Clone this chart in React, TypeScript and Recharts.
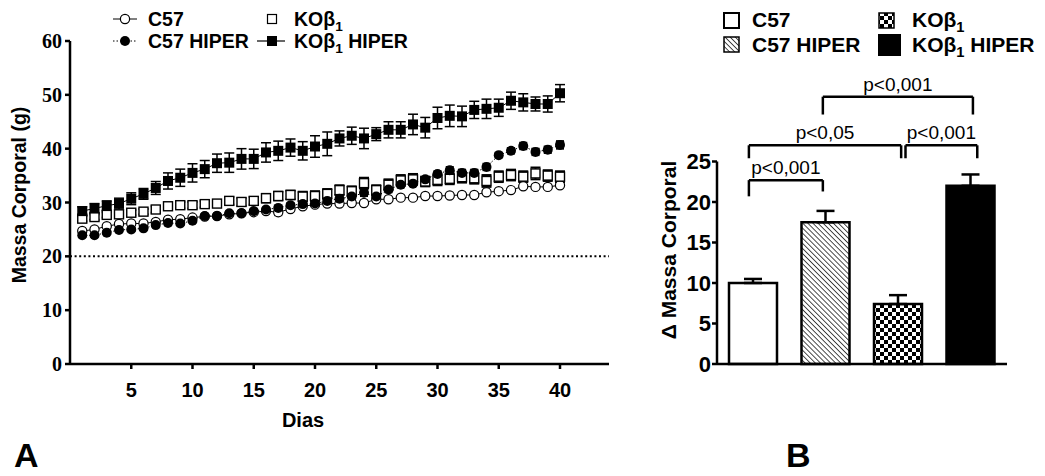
import React from 'react';
import {
  LineChart,
  Line,
  XAxis,
  YAxis,
  ErrorBar,
  ReferenceLine,
  BarChart,
  Bar,
  Cell,
} from 'recharts';

const SANS = '"Liberation Sans", Arial, sans-serif';
const SERIF = '"Liberation Serif", "Times New Roman", serif';

// Panel A: body mass (g) per day
const days = [
  1, 2, 3, 4, 5, 6, 7, 8, 9, 10, 11, 12, 13, 14, 15, 16, 17, 18, 19, 20,
  21, 22, 23, 24, 25, 26, 27, 28, 29, 30, 31, 32, 33, 34, 35, 36, 37, 38, 39, 40,
];
const c57 = [
  24.7, 25.0, 25.6, 26.0, 26.1, 26.1, 26.4, 26.8, 26.9, 27.2, 27.4, 27.5, 27.8, 28.0, 28.2, 28.4, 28.2, 28.8, 29.3, 29.6,
  29.8, 29.8, 29.9, 29.9, 30.6, 30.6, 30.9, 30.9, 31.2, 31.2, 31.3, 31.4, 31.4, 31.9, 32.1, 32.3, 33.0, 32.9, 32.9, 33.2,
];
const c57Err = [
  0.3, 0.3, 0.3, 0.3, 0.3, 0.3, 0.3, 0.3, 0.3, 0.3, 0.3, 0.3, 0.3, 0.3, 0.3, 0.3, 0.6, 0.3, 0.3, 0.3,
  0.3, 0.3, 0.3, 0.3, 0.3, 0.3, 0.3, 0.3, 0.3, 0.3, 0.3, 0.3, 0.3, 0.3, 0.3, 0.3, 0.3, 0.3, 0.3, 0.3,
];
const c57Hiper = [
  23.9, 23.9, 24.4, 24.9, 25.0, 25.2, 25.8, 26.2, 26.1, 26.6, 27.5, 27.5, 28.0, 28.0, 28.4, 28.7, 29.0, 29.5, 29.7, 29.8,
  30.3, 30.7, 31.1, 31.8, 31.1, 32.4, 33.3, 33.5, 34.3, 35.3, 36.0, 35.5, 35.5, 36.6, 38.8, 39.6, 40.5, 39.4, 39.8, 40.7,
];
const c57HiperErr = [
  0.3, 0.3, 0.3, 0.3, 0.3, 0.3, 0.3, 0.4, 0.3, 0.3, 0.3, 0.3, 0.3, 0.3, 0.3, 0.3, 0.4, 0.4, 0.4, 0.4,
  0.4, 0.5, 0.5, 0.6, 0.5, 0.5, 0.5, 0.4, 0.4, 0.5, 0.6, 0.6, 0.6, 0.6, 0.4, 0.5, 0.6, 0.6, 0.6, 0.7,
];
const koB1 = [
  27.0, 27.3, 27.7, 27.8, 28.1, 28.3, 28.7, 29.3, 29.5, 29.5, 29.7, 29.8, 30.3, 30.1, 30.3, 30.8, 31.2, 31.4, 31.1, 31.2,
  31.6, 32.3, 32.1, 33.6, 32.3, 33.3, 34.1, 34.3, 33.9, 34.2, 34.4, 34.7, 34.5, 34.0, 34.8, 35.1, 34.8, 35.4, 35.0, 34.8,
];
const koB1Err = [
  0.5, 0.5, 0.5, 0.5, 0.5, 0.5, 0.6, 0.6, 0.6, 0.6, 0.6, 0.6, 0.7, 0.7, 0.7, 0.8, 0.8, 0.8, 0.9, 0.9,
  0.9, 0.9, 0.9, 1.0, 0.9, 1.0, 1.0, 1.0, 0.9, 1.0, 1.0, 1.0, 1.0, 1.1, 1.0, 1.0, 1.0, 1.1, 1.0, 1.0,
];
const koB1Hiper = [
  28.4, 28.9, 29.4, 29.8, 30.7, 31.6, 32.7, 34.0, 34.6, 35.5, 36.2, 37.3, 37.4, 38.1, 38.1, 39.3, 39.6, 40.2, 39.6, 40.4,
  40.9, 41.9, 42.4, 41.9, 42.7, 43.5, 43.5, 44.5, 43.9, 45.7, 46.1, 46.0, 47.2, 47.4, 47.6, 48.9, 48.6, 48.3, 48.3, 50.3,
];
const koB1HiperErr = [
  0.8, 0.9, 0.9, 1.0, 1.1, 1.0, 1.2, 1.5, 1.6, 1.7, 1.6, 1.7, 1.8, 1.9, 1.8, 1.8, 1.8, 1.6, 1.7, 2.0,
  2.2, 1.4, 1.6, 1.9, 1.2, 1.5, 1.5, 1.9, 1.9, 2.0, 2.0, 1.9, 1.6, 1.8, 1.6, 1.6, 1.6, 1.3, 1.5, 1.6,
];
const dayTicks = [5, 10, 15, 20, 25, 30, 35, 40];
const massTicks = [0, 10, 20, 30, 40, 50, 60];

// Panel B: delta body mass
const groups = ['C57', 'C57 HIPER', 'KOβ1', 'KOβ1 HIPER'];
const groupPos = [0, 1, 2, 3];
const deltaMass = [10.0, 17.5, 7.4, 22.0];
const deltaErr = [0.5, 1.4, 1.1, 1.4];
const deltaTicks = [0, 5, 10, 15, 20, 25];
const groupFills = ['#fff', 'url(#hatch)', 'url(#checker)', '#000'];

// significance brackets: from/to in group position, y in axis units
const brackets = [
  { from: -0.06, to: 0.96, top: 22.7, legFrom: 20.7, legTo: 21.3, label: 'p<0,001' },
  { from: -0.06, to: 2.04, top: 27.0, legFrom: 25.4, legTo: 25.4, label: 'p<0,05' },
  { from: 2.1, to: 3.09, top: 27.0, legFrom: 25.4, legTo: 25.4, label: 'p<0,001' },
  { from: 0.96, to: 3.03, top: 33.0, legFrom: 30.8, legTo: 30.8, label: 'p<0,001' },
];

const massData = days.map((d, i) => ({
  day: d,
  c57: c57[i],
  c57Err: c57Err[i],
  c57Hiper: c57Hiper[i],
  c57HiperErr: c57HiperErr[i],
  koB1: koB1[i],
  koB1Err: koB1Err[i],
  koB1Hiper: koB1Hiper[i],
  koB1HiperErr: koB1HiperErr[i],
}));

const deltaData = groups.map((g, i) => ({
  name: g,
  pos: groupPos[i],
  value: deltaMass[i],
  err: [0, deltaErr[i]],
}));

const openCircle = (p: any) => (
  <circle key={`oc${p.index}`} cx={p.cx} cy={p.cy} r={4.6} fill="#fff" stroke="#000" strokeWidth={1.2} />
);
const filledCircle = (p: any) => (
  <circle key={`fc${p.index}`} cx={p.cx} cy={p.cy} r={5} fill="#000" />
);
const openSquare = (p: any) => (
  <rect key={`os${p.index}`} x={p.cx - 4.5} y={p.cy - 4.5} width={9} height={9} fill="#fff" stroke="#000" strokeWidth={1.4} />
);
const filledSquare = (p: any) => (
  <rect key={`fs${p.index}`} x={p.cx - 5} y={p.cy - 5} width={10} height={10} fill="#000" />
);

const axisStroke = { stroke: '#000', strokeWidth: 2.5 };

function KoLabel({ x, y, size, suffix }: { x: number; y: number; size: number; suffix?: string }) {
  return (
    <text x={x} y={y} fontFamily={SANS} fontWeight="bold" fontSize={size} fill="#000">
      KOβ
      <tspan dy={size * 0.25} fontSize={size * 0.7}>1</tspan>
      {suffix ? <tspan dy={-size * 0.25}>{suffix}</tspan> : null}
    </text>
  );
}

export default function App() {
  return (
    <div style={{ position: 'absolute', left: 0, top: 0, width: 1045, height: 476, background: '#fff' }}>
      <svg width={0} height={0} style={{ position: 'absolute' }}>
        <defs>
          <pattern id="hatch" width="3.6" height="3.6" patternUnits="userSpaceOnUse" patternTransform="rotate(-45)">
            <rect width="3.6" height="3.6" fill="#fff" />
            <line x1="0" y1="0" x2="0" y2="3.6" stroke="#000" strokeWidth="1.4" />
          </pattern>
          <pattern id="checker" width="8" height="8" patternUnits="userSpaceOnUse">
            <rect width="8" height="8" fill="#fff" />
            <rect width="4" height="4" fill="#000" />
            <rect x="4" y="4" width="4" height="4" fill="#000" />
          </pattern>
        </defs>
      </svg>

      <div style={{ position: 'absolute', left: 0, top: 0 }}>
        <LineChart width={620} height={476} data={massData} margin={{ top: 41, right: 11, bottom: 82, left: 30 }}>
          <XAxis
            type="number"
            dataKey="day"
            domain={[0, 44]}
            ticks={dayTicks}
            allowDataOverflow
            height={30}
            tickSize={5}
            tickMargin={14}
            axisLine={axisStroke}
            tickLine={axisStroke}
            tick={{ fill: '#000', fontSize: 20, fontWeight: 'bold', fontFamily: SANS }}
          />
          <YAxis
            type="number"
            domain={[0, 60]}
            ticks={massTicks}
            width={40}
            tickSize={5}
            tickMargin={3}
            axisLine={axisStroke}
            tickLine={axisStroke}
            tick={{ fill: '#000', fontSize: 20, fontWeight: 'bold', fontFamily: SERIF }}
          />
          <ReferenceLine y={20} stroke="#000" strokeWidth={2} strokeDasharray="2 2.6" />
          <Line dataKey="c57" stroke="#000" strokeWidth={1} dot={openCircle} activeDot={false} isAnimationActive={false}>
            <ErrorBar dataKey="c57Err" direction="y" width={4} stroke="#000" strokeWidth={1.5} />
          </Line>
          <Line dataKey="koB1" stroke="none" dot={openSquare} activeDot={false} isAnimationActive={false}>
            <ErrorBar dataKey="koB1Err" direction="y" width={5} stroke="#000" strokeWidth={2} />
          </Line>
          <Line
            dataKey="c57Hiper"
            stroke="#000"
            strokeWidth={1}
            strokeDasharray="1.5 2"
            dot={filledCircle}
            activeDot={false}
            isAnimationActive={false}
          >
            <ErrorBar dataKey="c57HiperErr" direction="y" width={4} stroke="#000" strokeWidth={2} />
          </Line>
          <Line dataKey="koB1Hiper" stroke="#000" strokeWidth={1} dot={filledSquare} activeDot={false} isAnimationActive={false}>
            <ErrorBar dataKey="koB1HiperErr" direction="y" width={5} stroke="#000" strokeWidth={1.5} />
          </Line>
        </LineChart>
      </div>

      <div style={{ position: 'absolute', left: 640, top: 0 }}>
        <BarChart width={405} height={476} data={deltaData} margin={{ top: 161.5, right: 38, bottom: 111, left: 37 }}>
          <XAxis
            type="number"
            dataKey="pos"
            domain={[-0.5, 3.5]}
            height={1}
            tick={false}
            tickLine={false}
            axisLine={axisStroke}
          />
          <YAxis
            type="number"
            domain={[0, 25]}
            ticks={deltaTicks}
            width={40}
            tickSize={5}
            tickMargin={1}
            axisLine={axisStroke}
            tickLine={axisStroke}
            tick={{ fill: '#000', fontSize: 22, fontWeight: 'bold', fontFamily: SANS }}
          />
          <Bar dataKey="value" barSize={48} stroke="#000" strokeWidth={2.5} isAnimationActive={false}>
            {deltaData.map((_, i) => (
              <Cell key={`c${i}`} fill={groupFills[i]} />
            ))}
            <ErrorBar dataKey="err" direction="y" width={9} stroke="#000" strokeWidth={2.5} />
          </Bar>
          {brackets.flatMap((b, i) => [
            <ReferenceLine
              key={`bl${i}`}
              ifOverflow="visible"
              stroke="#000"
              strokeWidth={2.5}
              segment={[{ x: b.from, y: b.legFrom }, { x: b.from, y: b.top }]}
            />,
            <ReferenceLine
              key={`br${i}`}
              ifOverflow="visible"
              stroke="#000"
              strokeWidth={2.5}
              segment={[{ x: b.to, y: b.legTo }, { x: b.to, y: b.top }]}
            />,
            <ReferenceLine
              key={`bh${i}`}
              ifOverflow="visible"
              stroke="#000"
              strokeWidth={2.5}
              segment={[{ x: b.from, y: b.top }, { x: b.to, y: b.top }]}
              label={{ value: b.label, position: 'top', offset: 6, fill: '#000', fontSize: 19, fontFamily: SANS }}
            />,
          ])}
        </BarChart>
      </div>

      <svg width={1045} height={476} style={{ position: 'absolute', left: 0, top: 0, pointerEvents: 'none' }}>
        {/* legend A */}
        <line x1={113} y1={19} x2={137} y2={19} stroke="#000" strokeWidth={1} />
        <circle cx={125} cy={19} r={4.6} fill="#fff" stroke="#000" strokeWidth={1.2} />
        <text x={148} y={26} fontFamily={SANS} fontWeight="bold" fontSize={19.5}>C57</text>
        <rect x={267.5} y={14.5} width={9} height={9} fill="#fff" stroke="#000" strokeWidth={1.2} />
        <KoLabel x={294} y={26} size={19.5} />
        <line x1={113} y1={41} x2={137} y2={41} stroke="#000" strokeWidth={1} strokeDasharray="1.5 2" />
        <circle cx={125} cy={41} r={5} fill="#000" />
        <text x={148} y={48} fontFamily={SANS} fontWeight="bold" fontSize={19.5}>C57 HIPER</text>
        <line x1={257} y1={41} x2={285} y2={41} stroke="#000" strokeWidth={1.2} />
        <rect x={267} y={36} width={10} height={10} fill="#000" />
        <KoLabel x={294} y={48} size={19.5} suffix=" HIPER" />

        {/* legend B */}
        <rect x={724} y={13} width={15} height={15} fill="#fff" stroke="#000" strokeWidth={2} />
        <text x={752} y={27} fontFamily={SANS} fontWeight="bold" fontSize={21}>C57</text>
        <rect x={879} y={13} width={15} height={15} fill="url(#checker)" stroke="#000" strokeWidth={1.5} />
        <KoLabel x={912} y={27} size={21} />
        <rect x={724} y={37} width={15} height={15} fill="url(#hatch)" stroke="#000" strokeWidth={1.5} />
        <text x={752} y={52} fontFamily={SANS} fontWeight="bold" fontSize={21}>C57 HIPER</text>
        <rect x={878} y={34} width={23} height={22} fill="#000" />
        <KoLabel x={912} y={52} size={21} suffix=" HIPER" />

        {/* axis titles */}
        <text
          x={0}
          y={0}
          transform="translate(26,195) rotate(-90)"
          textAnchor="middle"
          fontFamily={SANS}
          fontWeight="bold"
          fontSize={19.5}
        >
          Massa Corporal (g)
        </text>
        <text x={303} y={427} textAnchor="middle" fontFamily={SANS} fontWeight="bold" fontSize={20}>
          Dias
        </text>
        <text
          x={0}
          y={0}
          transform="translate(676,250) rotate(-90)"
          textAnchor="middle"
          fontFamily={SANS}
          fontWeight="bold"
          fontSize={21}
        >
          Δ Massa Corporal
        </text>

        {/* panel letters */}
        <text x={14} y={467} fontFamily={SANS} fontWeight="bold" fontSize={34}>A</text>
        <text x={786} y={467} fontFamily={SANS} fontWeight="bold" fontSize={34}>B</text>
      </svg>
    </div>
  );
}
